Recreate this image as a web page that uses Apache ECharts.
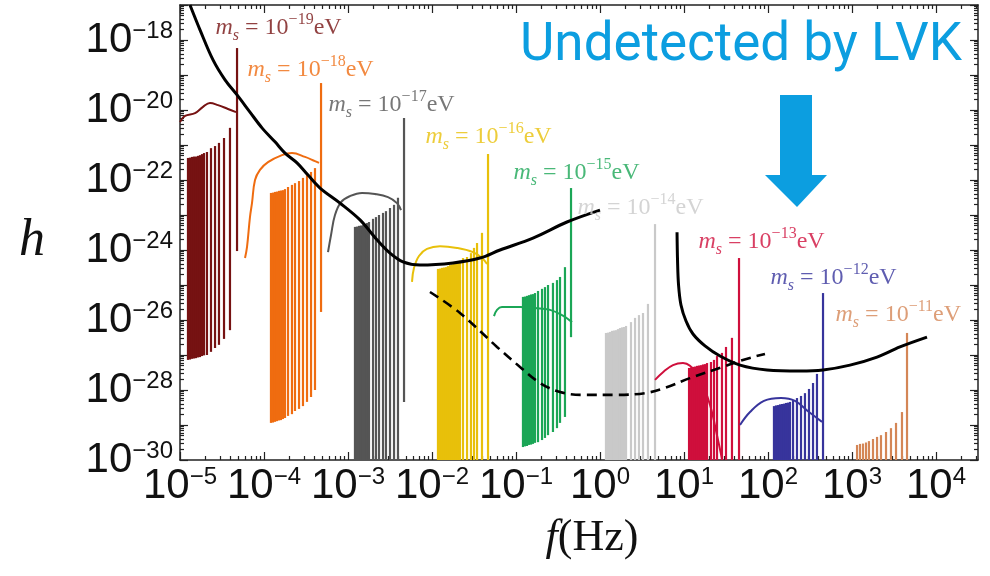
<!DOCTYPE html>
<html>
<head>
<meta charset="utf-8">
<title>Scalar-mass GW strain vs frequency</title>
<script src="https://cdn.jsdelivr.net/npm/echarts@6/dist/echarts.min.js"></script>
<style>
  html, body { margin: 0; padding: 0; background: #fff; }
  #chart { width: 990px; height: 576px; }
</style>
</head>
<body>
<div id="chart"></div>
<script>
// All values are decimal exponents: x = log10(f / Hz), y = log10(h).

// scalar masses (log10 of m_s / eV), one per spectrum family
const massExps = [-19, -18, -17, -16, -15, -14, -13, -12, -11];

// vertical spectral lines: [log10 f, log10 h (lower end), log10 h (upper end)]
const barsM19 = [
  [-4.905,-27.14,-21.37],[-4.881,-27.13,-21.36],[-4.857,-27.11,-21.34],[-4.833,-27.10,-21.33],
  [-4.810,-27.09,-21.33],[-4.786,-27.07,-21.31],[-4.762,-27.06,-21.29],[-4.738,-27.03,-21.26],
  [-4.714,-27.01,-21.23],[-4.679,-27.00,-21.20],[-4.631,-26.91,-21.09],[-4.583,-26.80,-21.03],
  [-4.536,-26.71,-20.94],[-4.476,-26.54,-20.80],[-4.405,-26.29,-20.51],[-4.321,-24.03,-18.23]
];
const barsM18 = [
  [-3.917,-28.94,-22.37],[-3.893,-28.93,-22.36],[-3.869,-28.91,-22.34],[-3.845,-28.89,-22.33],
  [-3.821,-28.87,-22.31],[-3.798,-28.86,-22.30],[-3.774,-28.83,-22.29],[-3.750,-28.80,-22.26],
  [-3.714,-28.74,-22.20],[-3.667,-28.69,-22.14],[-3.631,-28.60,-22.09],[-3.583,-28.54,-22.03],
  [-3.536,-28.46,-21.94],[-3.488,-28.34,-21.86],[-3.440,-28.20,-21.77],[-3.393,-28.00,-21.66],
  [-3.321,-25.77,-19.23]
];
const barsM17 = [
  [-2.917,-30,-23.34],[-2.893,-30,-23.33],[-2.869,-30,-23.31],[-2.845,-30,-23.30],
  [-2.821,-30,-23.29],[-2.798,-30,-23.26],[-2.774,-30,-23.23],[-2.750,-30,-23.20],
  [-2.702,-30,-23.11],[-2.667,-30,-23.06],[-2.631,-30,-23.00],[-2.583,-30,-22.94],
  [-2.548,-30,-22.89],[-2.500,-30,-22.80],[-2.452,-30,-22.71],[-2.405,-30,-22.51],
  [-2.333,-28.34,-20.23]
];
const barsM16 = [
  [-1.929,-30,-24.54],[-1.905,-30,-24.53],[-1.881,-30,-24.51],[-1.857,-30,-24.50],
  [-1.833,-30,-24.49],[-1.810,-30,-24.46],[-1.786,-30,-24.43],[-1.762,-30,-24.41],
  [-1.738,-30,-24.40],[-1.714,-30,-24.37],[-1.690,-30,-24.34],[-1.667,-30,-24.31],
  [-1.631,-30,-24.23],[-1.583,-30,-24.20],[-1.536,-30,-24.09],[-1.500,-30,-23.94],
  [-1.464,-30,-23.80],[-1.405,-30,-23.51],[-1.333,-30,-21.26]
];
const barsM15 = [
  [-0.917,-29.63,-25.34],[-0.893,-29.61,-25.33],[-0.869,-29.60,-25.31],[-0.845,-29.57,-25.29],
  [-0.821,-29.56,-25.27],[-0.798,-29.54,-25.26],[-0.774,-29.51,-25.23],[-0.738,-29.49,-25.17],
  [-0.690,-29.43,-25.11],[-0.655,-29.37,-25.06],[-0.619,-29.29,-25.00],[-0.560,-29.20,-24.94],
  [-0.512,-29.09,-24.86],[-0.476,-28.94,-24.77],[-0.417,-28.77,-24.49],[-0.345,-26.49,-22.23]
];
const barsM14 = [
  [0.071,-30,-26.37],[0.095,-30,-26.36],[0.119,-30,-26.34],[0.143,-30,-26.31],
  [0.167,-30,-26.30],[0.190,-30,-26.29],[0.214,-30,-26.26],[0.238,-30,-26.23],
  [0.262,-30,-26.21],[0.286,-30,-26.20],[0.310,-30,-26.17],[0.369,-30,-26.06],
  [0.417,-30,-25.94],[0.464,-30,-25.86],[0.512,-30,-25.80],[0.571,-30,-25.54],
  [0.655,-30,-23.26]
];
const barsM13 = [
  [1.060,-30,-27.37],[1.083,-30,-27.36],[1.107,-30,-27.34],[1.131,-30,-27.33],
  [1.155,-30,-27.31],[1.179,-30,-27.30],[1.202,-30,-27.29],[1.226,-30,-27.27],
  [1.250,-30,-27.26],[1.274,-30,-27.23],[1.321,-30,-27.20],[1.357,-30,-27.14],
  [1.393,-30,-27.03],[1.452,-30,-26.94],[1.500,-30,-26.77],[1.571,-30,-26.51],
  [1.655,-30,-24.23]
];
const barsM12 = [
  [2.071,-30,-28.46],[2.095,-30,-28.44],[2.119,-30,-28.43],[2.143,-30,-28.41],
  [2.167,-30,-28.40],[2.190,-30,-28.39],[2.214,-30,-28.37],[2.238,-30,-28.36],
  [2.262,-30,-28.34],[2.298,-30,-28.29],[2.345,-30,-28.23],[2.393,-30,-28.17],
  [2.440,-30,-28.09],[2.488,-30,-27.97],[2.536,-30,-27.80],[2.583,-30,-27.54],
  [2.655,-30,-25.23]
];
const barsM11 = [
  [3.060,-30,-29.57],[3.095,-30,-29.54],[3.131,-30,-29.53],[3.167,-30,-29.50],
  [3.202,-30,-29.46],[3.250,-30,-29.40],[3.298,-30,-29.34],[3.345,-30,-29.29],
  [3.405,-30,-29.20],[3.464,-30,-29.09],[3.524,-30,-28.94],[3.595,-30,-28.63],
  [3.655,-30,-26.37]
];

// thin envelope curves: [log10 f, log10 h]
const curveM19 = [[-5.000,-20.34],[-4.940,-20.17],[-4.821,-20.09],[-4.726,-19.91],[-4.643,-19.80],[-4.548,-19.86],[-4.429,-19.97],[-4.333,-20.06]];
const curveM18 = [[-4.226,-24.23],[-4.202,-23.91],[-4.167,-23.06],[-4.143,-22.66],[-4.107,-22.00],[-4.048,-21.71],[-3.952,-21.49],[-3.786,-21.29],[-3.667,-21.23],[-3.512,-21.34],[-3.393,-21.46],[-3.345,-21.51]];
const curveM17 = [[-3.238,-24.06],[-3.202,-23.57],[-3.155,-23.00],[-3.083,-22.63],[-2.976,-22.46],[-2.833,-22.37],[-2.679,-22.40],[-2.524,-22.49],[-2.417,-22.66],[-2.369,-22.86]];
const curveM16 = [[-2.238,-24.91],[-2.214,-24.51],[-2.155,-24.17],[-2.060,-23.97],[-1.905,-23.89],[-1.702,-23.94],[-1.512,-24.06],[-1.405,-24.23],[-1.345,-24.40]];
const curveM15 = [[-1.262,-25.89],[-1.226,-25.71],[-1.167,-25.63],[-0.952,-25.63],[-0.774,-25.66],[-0.595,-25.71],[-0.452,-25.86],[-0.333,-26.06]];
const curveM13 = [[0.655,-27.71],[0.750,-27.49],[0.869,-27.29],[0.988,-27.23],[1.071,-27.31],[1.190,-27.66],[1.310,-28.43],[1.405,-29.43],[1.452,-29.97]];
const curveM12 = [[1.667,-29.00],[1.786,-28.63],[1.952,-28.31],[2.155,-28.23],[2.321,-28.31],[2.488,-28.63],[2.643,-28.91]];

// detector sensitivity curves
const spaceSensitivity = [
  [-4.881,-17.00],[-4.762,-17.71],[-4.607,-18.57],[-4.464,-19.14],[-4.321,-19.57],[-4.167,-20.06],
  [-4.024,-20.51],[-3.869,-20.91],[-3.750,-21.23],[-3.607,-21.51],[-3.476,-21.86],[-3.333,-22.23],
  [-3.095,-22.66],[-2.857,-23.14],[-2.655,-23.71],[-2.500,-24.09],[-2.345,-24.34],[-2.143,-24.43],
  [-1.750,-24.37],[-1.429,-24.23],[-1.190,-24.00],[-0.798,-23.66],[-0.393,-23.20],[0.000,-22.86]
];
const decihertzSensitivity = [
  [-2.024,-25.20],[-1.667,-25.80],[-1.226,-26.77],[-0.952,-27.34],[-0.714,-27.80],[-0.476,-28.06],
  [-0.202,-28.14],[0.202,-28.14],[0.536,-28.09],[0.774,-27.94],[1.071,-27.66],[1.464,-27.34],
  [1.702,-27.14],[1.964,-26.97]
];
const groundSensitivity = [
  [0.917,-23.49],[0.923,-24.29],[0.935,-25.00],[0.964,-25.57],[1.024,-26.03],[1.107,-26.40],
  [1.250,-26.74],[1.429,-27.03],[1.667,-27.29],[1.988,-27.43],[2.381,-27.46],[2.655,-27.43],
  [2.976,-27.29],[3.298,-27.06],[3.571,-26.77],[3.893,-26.49]
];

// where each "m_s = 10^n eV" caption starts: [log10 f, log10 h]
const labelAnchors = [
  [-4.583,-17.66],[-4.202,-18.86],[-3.238,-19.86],[-2.083,-20.77],[-1.036,-21.80],
  [-0.274,-22.80],[1.167,-23.77],[2.024,-24.80],[2.798,-25.86]
];

// axis tick values (decades)
const xDecades = [-5,-4,-3,-2,-1,0,1,2,3,4];
const yDecades = [-30,-29,-28,-27,-26,-25,-24,-23,-22,-21,-20,-19,-18,-17];
const yLabelDecades = [-30,-28,-26,-24,-22,-20,-18];

// ---- styling / construction ----
const X_MIN = -5, X_MAX = 4.5, Y_MIN = -30, Y_MAX = -17;
const massColors = ['#761212','#ef6c10','#555555','#e8c00a','#1ba656','#c9c9c9','#cf0f3c','#37349c','#d48656'];
const barSets = [barsM19, barsM18, barsM17, barsM16, barsM15, barsM14, barsM13, barsM12, barsM11];
const curveSets = { 0: curveM19, 1: curveM18, 2: curveM17, 3: curveM16, 4: curveM15, 6: curveM13, 7: curveM12 };

function minorTicks(decades, lo, hi) {
  const out = [];
  decades.forEach(function (d) {
    for (let k = 2; k <= 9; k++) {
      const v = d + Math.log10(k);
      if (v > lo && v < hi) out.push(v);
    }
  });
  return out;
}
const xMinor = minorTicks(xDecades, X_MIN, X_MAX);
const yMinor = minorTicks(yDecades, Y_MIN, Y_MAX);

const MINUS = '\u2212';
function expText(v) { return (v < 0 ? MINUS : '') + Math.abs(Math.round(v)); }

const tickRich = {
  b: { fontFamily: 'Liberation Sans', fontSize: 42, lineHeight: 42, color: '#111' },
  s: { fontFamily: 'Liberation Sans', fontSize: 24, lineHeight: 18, verticalAlign: 'top', color: '#111' }
};
function tickFormatter(v) { return '{b|10}{s|' + expText(v) + '}'; }

const frameLine = { show: true, onZero: false, lineStyle: { color: '#222', width: 1.5 } };

function makeX(position, major) {
  return {
    type: 'value', min: X_MIN, max: X_MAX, position: position,
    axisLine: major ? frameLine : { show: false, onZero: false },
    axisTick: { show: true, inside: true, length: major ? 8 : 4, customValues: major ? xDecades : xMinor,
                lineStyle: { color: '#222', width: 1.2 } },
    axisLabel: (major && position === 'bottom')
      ? { show: true, customValues: xDecades, formatter: tickFormatter, rich: tickRich, margin: 5 }
      : { show: false },
    splitLine: { show: false }
  };
}
function makeY(position, major) {
  return {
    type: 'value', min: Y_MIN, max: Y_MAX, position: position,
    axisLine: major ? frameLine : { show: false, onZero: false },
    axisTick: { show: true, inside: true, length: major ? 8 : 4, customValues: major ? yDecades : yMinor,
                lineStyle: { color: '#222', width: 1.2 } },
    axisLabel: (major && position === 'left')
      ? { show: true, customValues: yLabelDecades, formatter: tickFormatter, rich: tickRich, margin: 7 }
      : { show: false },
    splitLine: { show: false }
  };
}

const xAxes = [makeX('bottom', true), makeX('bottom', false), makeX('top', true), makeX('top', false)];
const yAxes = [makeY('left', true), makeY('left', false), makeY('right', true), makeY('right', false)];

xAxes[0].name = '{i|f}(Hz)';
xAxes[0].nameLocation = 'middle';
xAxes[0].nameGap = 56;
xAxes[0].nameTextStyle = {
  fontFamily: 'Liberation Serif', fontSize: 44, color: '#111', padding: [0, 0, 0, 26],
  rich: { i: { fontFamily: 'Liberation Serif', fontStyle: 'italic', fontSize: 44, color: '#111' } }
};
yAxes[0].name = 'h';
yAxes[0].nameLocation = 'middle';
yAxes[0].nameRotate = 0;
yAxes[0].nameGap = 135;
yAxes[0].nameTextStyle = {
  fontFamily: 'Liberation Serif', fontStyle: 'italic', fontSize: 52, color: '#111',
  verticalAlign: 'top', lineHeight: 18
};

function renderLine(params, api) {
  const a = api.coord([api.value(0), api.value(1)]);
  const b = api.coord([api.value(0), api.value(2)]);
  return {
    type: 'line',
    shape: { x1: a[0], y1: a[1], x2: b[0], y2: b[1] },
    style: { stroke: api.visual('color'), lineWidth: 2.2 }
  };
}

const series = [];
barSets.forEach(function (bars, i) {
  series.push({
    type: 'custom', name: 'lines ' + massExps[i], renderItem: renderLine,
    data: bars, encode: { x: 0, y: [1, 2] }, itemStyle: { color: massColors[i] },
    silent: true, z: 2
  });
  if (curveSets[i]) {
    series.push({
      type: 'line', name: 'envelope ' + massExps[i], data: curveSets[i], smooth: 0.4,
      showSymbol: false, lineStyle: { color: massColors[i], width: 2 }, silent: true, z: 3
    });
  }
});

[[spaceSensitivity, 'solid'], [decihertzSensitivity, [10, 6]], [groundSensitivity, 'solid']].forEach(function (c) {
  series.push({
    type: 'line', data: c[0], smooth: 0.35, showSymbol: false, silent: true, z: 5,
    lineStyle: { color: '#000', width: c[1] === 'solid' ? 3 : 2.6, type: c[1] }
  });
});

// captions "m_s = 10^n eV" anchored in data space
series.push({
  type: 'scatter', symbolSize: 1, itemStyle: { color: 'rgba(0,0,0,0)' }, silent: true, z: 6,
  data: labelAnchors.map(function (p, i) {
    return { value: p, name: expText(massExps[i]), label: { color: massColors[i] } };
  }),
  label: {
    show: true, position: 'right', distance: 0,
    formatter: function (p) { return '{m|m}{sub|s}{t| = 10}{sup|' + p.name + '}{t|eV}'; },
    rich: {
      m: { fontFamily: 'Liberation Serif', fontStyle: 'italic', fontSize: 24, lineHeight: 32 },
      sub: { fontFamily: 'Liberation Serif', fontStyle: 'italic', fontSize: 16, lineHeight: 16, verticalAlign: 'bottom' },
      t: { fontFamily: 'Liberation Serif', fontSize: 24, lineHeight: 32 },
      sup: { fontFamily: 'Liberation Serif', fontSize: 16, lineHeight: 14, verticalAlign: 'top' }
    }
  }
});

const chart = echarts.init(document.getElementById('chart'), null, { renderer: 'canvas' });
chart.setOption({
  animation: false,
  backgroundColor: '#fff',
  grid: { left: 180, right: 12, top: 5, bottom: 116, containLabel: false },
  xAxis: xAxes,
  yAxis: yAxes,
  series: series,
  graphic: [
    {
      type: 'text', x: 520, y: 47, silent: true,
      style: { text: 'Undetected by LVK', fill: '#0c9ee0', font: '53px Roboto', textAlign: 'left', textVerticalAlign: 'middle' }
    },
    {
      type: 'polygon', silent: true,
      shape: { points: [[780, 95], [812, 95], [812, 175], [827, 175], [797, 207], [765, 175], [780, 175]] },
      style: { fill: '#0c9ee0' }
    }
  ]
});
</script>
</body>
</html>
